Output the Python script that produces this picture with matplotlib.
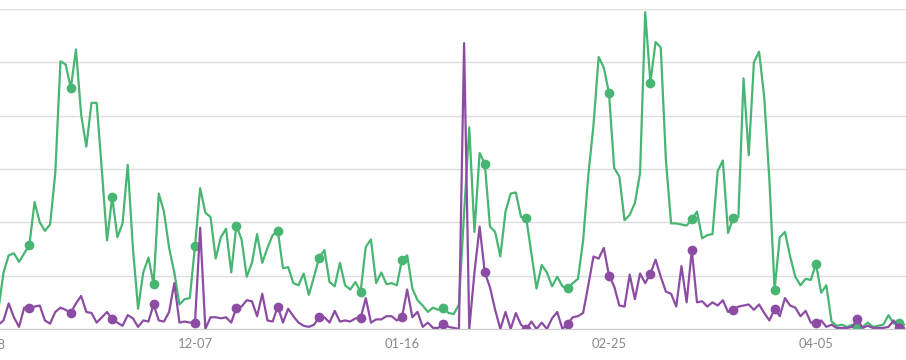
import numpy as np
import matplotlib
matplotlib.use("Agg")
import matplotlib.pyplot as plt

# day index counted from 10-28, one value per day
days = np.arange(2, 178)
tick_days = [0, 40, 80, 120, 160]
tick_labels = ["10-28", "12-07", "01-16", "02-25", "04-05"]

green = [18, 53, 69, 71, 63, 71, 79, 119, 100, 92,
         98, 146, 251, 248, 226, 262, 201, 171, 212, 212,
         149, 83, 124, 86, 99, 154, 76, 19, 53, 67,
         42, 127, 110, 76, 53, 23, 28, 29, 78, 132,
         109, 105, 66, 86, 94, 53, 97, 84, 49, 62,
         89, 62, 76, 88, 92, 57, 58, 43, 41, 52,
         32, 49, 67, 74, 44, 40, 62, 41, 37, 44,
         35, 77, 84, 43, 53, 42, 43, 41, 65, 69,
         38, 27, 22, 16, 20, 18, 20, 15, 14, 23,
         109, 189, 91, 165, 155, 96, 91, 68, 110, 127,
         128, 105, 104, 71, 38, 60, 53, 40, 49, 40,
         38, 43, 47, 83, 144, 191, 255, 245, 221, 151,
         143, 102, 107, 118, 146, 297, 231, 269, 264, 158,
         99, 99, 98, 97, 103, 110, 85, 88, 89, 148,
         158, 90, 104, 105, 235, 163, 250, 260, 217, 139,
         37, 86, 91, 68, 49, 41, 47, 46, 61, 34,
         41, 7, 3, 4, 2, 4, 2, 2, 6, 2,
         3, 4, 13, 5, 6, 4]

purple = [4, 8, 24, 11, 2, 20, 20, 21, 22, 8,
          5, 16, 20, 18, 15, 24, 31, 16, 15, 6,
          11, 16, 9, 6, 3, 13, 10, 2, 8, 7,
          23, 8, 7, 16, 43, 6, 7, 6, 6, 95,
          0, 11, 11, 10, 11, 6, 20, 21, 27, 26,
          12, 33, 8, 7, 21, 6, 19, 12, 6, 3,
          2, 4, 11, 11, 6, 17, 7, 8, 7, 10,
          10, 29, 6, 9, 9, 12, 12, 8, 11, 37,
          11, 16, 2, 6, 1, 1, 5, 2, 1, 0,
          268, 0, 53, 96, 53, 39, 18, 0, 16, 0,
          15, 4, 0, 7, 0, 6, 0, 10, 16, 0,
          5, 11, 12, 15, 41, 68, 66, 76, 50, 40,
          22, 21, 51, 28, 52, 43, 52, 65, 49, 35,
          33, 21, 59, 25, 74, 25, 26, 21, 25, 22,
          27, 16, 18, 21, 22, 23, 18, 23, 15, 8,
          19, 12, 29, 22, 20, 12, 17, 6, 6, 8,
          2, 4, 1, 1, 1, 2, 9, 1, 3, 1,
          1, 1, 2, 8, 1, 1]

GREEN = "#48b573"
PURPLE = "#8d4ca4"
LABEL_FONT = ["Liberation Sans Narrow", "Lato", "DejaVu Sans"]

fig = plt.figure(figsize=(9.06, 3.6), dpi=100)
ax = fig.add_axes([0, 31 / 360, 1, 320 / 360])

marks = slice(6, None, 8)
ax.plot(days, green, color=GREEN, lw=1.6, marker="o", ms=6, markevery=marks)
ax.plot(days, purple, color=PURPLE, lw=1.6, marker="o", ms=6, markevery=marks)

ax.set_xlim(12 / 5.175, 918 / 5.175)
ax.set_ylim(0, 300)
ax.set_yticks(range(0, 301, 50))
ax.grid(axis="y", color="#dddddd", lw=1)
ax.set_axisbelow(True)
ax.tick_params(axis="y", left=False, labelleft=False)

ax.set_xticks(tick_days[1:])
ax.set_xticklabels(tick_labels[1:], family=LABEL_FONT, fontsize=9.4, color="#8a8a8a")
ax.tick_params(axis="x", length=0, pad=6.5)
# first label sits mostly off the left edge
ax.text(tick_days[0], -0.03, tick_labels[0], transform=ax.get_xaxis_transform(),
        ha="center", va="top", family=LABEL_FONT, fontsize=9.4, color="#8a8a8a",
        clip_on=False)

for s in ["top", "left", "right"]:
    ax.spines[s].set_visible(False)
ax.spines["bottom"].set_color("#cccccc")

fig.savefig("out.png", dpi=100)
